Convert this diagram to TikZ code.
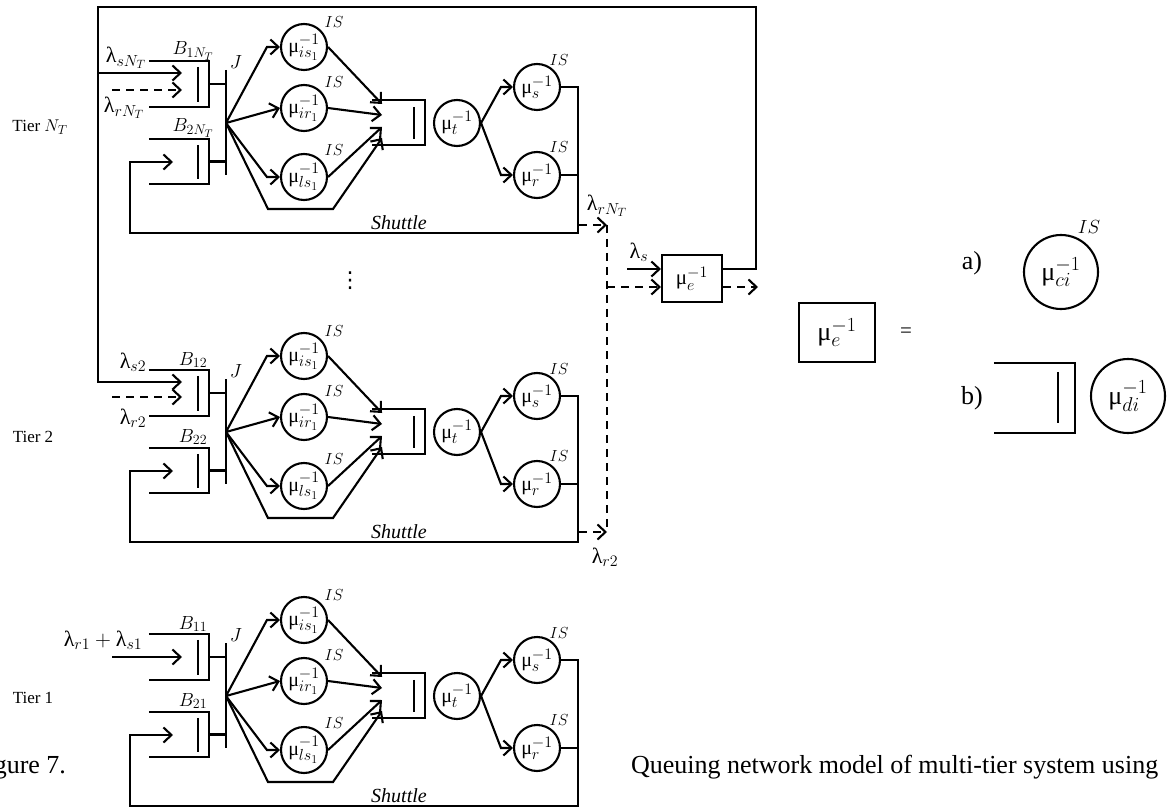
\RequirePackage{fix-cm}
\documentclass[tikz,border=0pt]{standalone}
\usepackage{fontspec}
\setmainfont{Liberation Serif}
\newfontfamily\dejavufont{DejaVu Sans}
\usetikzlibrary{arrows.meta,calc}
\DeclareMathSizes{20}{20}{16}{12}
\DeclareMathSizes{22}{22}{16}{12}
\DeclareMathSizes{19}{19}{14}{11}
\DeclareMathSizes{16}{16}{12}{9}
\DeclareMathSizes{17}{17}{13}{10}
\DeclareMathSizes{21}{21}{16}{12}
\DeclareMathSizes{26}{26}{20}{15}

\newcommand{\srvtext}[1]{\makebox[0pt]{μ$#1$}}

\tikzset{
  arr/.style={-{Straight Barb[length=8pt,width=15pt]}},
  dsh/.style={dash pattern=on 8pt off 6pt},
  srv/.style={circle,draw,minimum size=46pt,inner sep=0pt,font=\fontsize{20}{20}\selectfont},
  bigsrv/.style={circle,draw,minimum size=74pt,inner sep=0pt,font=\fontsize{26}{26}\selectfont},
  qnode/.style={rectangle,inner sep=0pt},
  lam/.style={inner sep=0pt,font=\fontsize{22}{22}\selectfont},
  blbl/.style={inner sep=0pt,font=\fontsize{19}{19}\selectfont},
  islbl/.style={inner sep=0pt,font=\fontsize{16}{16}\selectfont},
  shlbl/.style={inner sep=0pt,font=\fontsize{20}{20}\selectfont\itshape},
  tierlbl/.style={inner sep=0pt,font=\fontsize{17}{17}\selectfont},
  captext/.style={inner sep=0pt,font=\fontsize{26}{26}\selectfont},
  biglbl/.style={inner sep=0pt,font=\fontsize{26}{26}\selectfont},
}

\newcommand{\tiercore}[2]{%
  \node[qnode,minimum width=58pt,minimum height=44pt] (B1) at (179,84) {};
  \draw (B1.north west) -- (B1.north east) -- (B1.south east) -- (B1.south west);
  \draw ($(B1.north east)+(-11,6)$) -- ($(B1.south east)+(-11,-5)$);
  \node[qnode,minimum width=58pt,minimum height=43pt] (B2) at (179,161.5) {};
  \draw (B2.north west) -- (B2.north east) -- (B2.south east) -- (B2.south west);
  \draw ($(B2.north east)+(-11,6)$) -- ($(B2.south east)+(-11,-5)$);
  \node[blbl] (B1l) at (193,51) {$B_{#1}$};
  \node[blbl] (B2l) at (193,128) {$B_{#2}$};
  \coordinate (Jt) at (226,70);
  \coordinate (Jb) at (226,175);
  \coordinate (J) at (226,123);
  \draw (Jt) -- (Jb);
  \node[blbl] (Jl) at (236,62) {$J$};
  \draw (B1.east) -- (B1.east -| J);
  \draw (B2.east) -- (B2.east -| J);
  \node[srv] (cis) at (304,47) {\srvtext{^{-1}_{is_1}}};
  \node[srv] (cir) at (304,108) {\srvtext{^{-1}_{ir_1}}};
  \node[srv] (cls) at (304,177) {\srvtext{^{-1}_{ls_1}}};
  \node[islbl] (cisIS) at (334,22) {$IS$};
  \node[islbl] (cirIS) at (334,82) {$IS$};
  \node[islbl] (clsIS) at (334,150) {$IS$};
  \draw[arr] (J) -- ($(cis.west)+(-13,0)$) -- (cis.west);
  \draw[arr] (J) -- (cir.west);
  \draw[arr] (J) -- ($(cls.west)+(-13,0)$) -- (cls.west);
  \coordinate (byA) at (268,209);
  \coordinate (byB) at (333,209);
  \coordinate (m1) at (382,104);
  \coordinate (m2) at (382,115);
  \coordinate (m3) at (382,127);
  \coordinate (m4) at (382,138);
  \draw[arr] (cis.east) -- (m1);
  \draw[arr] (cir.east) -- (m2);
  \draw[arr] (cls.east) -- (m3);
  \draw[arr] (J) -- (byA) -- (byB) -- (m4);
  \node[qnode,minimum width=51pt,minimum height=43pt] (Q) at (398.5,122.5) {};
  \draw (Q.north west) -- (Q.north east) -- (Q.south east) -- (Q.south west);
  \draw ($(Q.north east)+(-11,7)$) -- ($(Q.south east)+(-11,-6)$);
  \node[srv] (mt) at (457,123) {\srvtext{^{-1}_{t}}};
  \node[srv] (ms) at (537,87) {\srvtext{^{-1}_{s}}};
  \node[srv] (mr) at (537,175) {\srvtext{^{-1}_{r}}};
  \node[islbl] (msIS) at (559,60) {$IS$};
  \node[islbl] (mrIS) at (559,147) {$IS$};
  \draw[arr] (mt.east) -- ($(ms.west)+(-12,0)$) -- (ms.west);
  \draw[arr] (mt.east) -- ($(mr.west)+(-12,0)$) -- (mr.west);
  \coordinate (oT) at (578,87);
  \coordinate (oB) at (578,233);
  \coordinate (fbL) at (130,233);
  \coordinate (fbU) at (130,162);
  \coordinate (fbT) at (173,162);
  \draw[arr] (ms.east) -- (oT) -- (oB) -- (fbL) -- (fbU) -- (fbT);
  \draw (mr.east) -- (mr.east -| oT);
  \node[shlbl] (shut) at (399,223) {Shuttle};
}

\begin{document}
\begin{tikzpicture}[x=1pt,y=-1pt,line width=2.1pt]
\clip (0,0) rectangle (1167,810);

\begin{scope}[name prefix=tN-]
  \tiercore{1N_T}{2N_T}
\end{scope}
\begin{scope}[shift={(0,309)},name prefix=t2-]
  \tiercore{12}{22}
\end{scope}
\begin{scope}[shift={(0,573)},name prefix=t1-]
  \tiercore{11}{21}
\end{scope}

% tier labels
\node[tierlbl] (tierN) at (40,127) {Tier $N_T$};
\node[tierlbl] (tier2) at (33,437) {Tier 2};
\node[tierlbl] (tier1) at (33,698) {Tier 1};

% exit station
\node[draw,rectangle,minimum width=60pt,minimum height=47pt,inner sep=0pt,font=\fontsize{21}{21}\selectfont] (E) at (692,278.5) {μ$^{-1}_{e}$};

% outer loop
\coordinate (lpA) at (756,269);
\coordinate (lpB) at (756,7);
\coordinate (lpC) at (98,7);
\coordinate (lpD) at (98,382);
\coordinate (in2s) at (182,382);
\coordinate (lpJ) at (98,73);
\coordinate (inNs) at (182,73);
\draw[arr] ($(E.east)+(0,-9.5)$) -- (lpA) -- (lpB) -- (lpC) -- (lpD) -- (in2s);
\draw[arr] (lpJ) -- (inNs);

% dashed inputs
\coordinate (dNa) at (112,90);
\coordinate (dNb) at (182,90);
\coordinate (d2a) at (112,397);
\coordinate (d2b) at (182,397);
\draw[arr,dsh] (dNa) -- (dNb);
\draw[arr,dsh] (d2a) -- (d2b);

% tier 1 input
\coordinate (i1a) at (112,657);
\coordinate (i1b) at (182,657);
\draw[arr] (i1a) -- (i1b);

% dashed outputs of tiers
\coordinate (oNa) at (579,225);
\coordinate (oNb) at (607,225);
\coordinate (o2a) at (579,532);
\coordinate (o2b) at (607,532);
\coordinate (vE) at (607,287);
\draw[arr,dsh] (oNa) -- (oNb);
\draw[arr,dsh] (o2a) -- (o2b);
\draw[dsh] (oNb) -- (o2b);
\draw[arr,dsh] (vE) -- ($(E.west)+(0,8.5)$);
\coordinate (lsa) at (627,269);
\draw[arr] (lsa) -- ($(E.west)+(0,-9.5)$);
\coordinate (eo) at (758,287);
\draw[arr,dsh] ($(E.east)+(0,8.5)$) -- (eo);

% lambda labels
\node[lam] (lsN) at (126,58) {λ$_{sN_T}$};
\node[lam] (lrN) at (124,108) {λ$_{rN_T}$};
\node[lam] (ls2) at (133,362) {λ$_{s2}$};
\node[lam] (lr2) at (133,418) {λ$_{r2}$};
\node[lam] (lrs1) at (103,640) {λ$_{r1}+{}$λ$_{s1}$};
\node[lam] (lrNo) at (607,206) {λ$_{rN_T}$};
\node[lam] (lso) at (639,252) {λ$_{s}$};
\node[lam] (lr2o) at (605,557) {λ$_{r2}$};

% dots
\node[inner sep=0pt,font=\dejavufont\fontsize{22}{22}\selectfont] (vdots) at (350,281) {⋮};

% legend
\node[draw,rectangle,minimum width=76pt,minimum height=59pt,inner sep=0pt,font=\fontsize{26}{26}\selectfont] (E2) at (837,332.5) {μ$^{-1}_{e}$};
\node[inner sep=0pt,font=\fontsize{21}{21}\selectfont] (eq) at (906,333) {=};
\node[biglbl] (la) at (972,263) {a)};
\node[biglbl] (lb) at (972,398) {b)};
\node[bigsrv] (cci) at (1061,272) {\srvtext{^{-1}_{ci}}};
\node[islbl,font=\fontsize{19}{19}\selectfont] (cciIS) at (1089,227) {$IS$};
\node[qnode,minimum width=79pt,minimum height=68pt] (Qb) at (1034.5,398) {};
\draw (Qb.north west) -- (Qb.north east) -- (Qb.south east) -- (Qb.south west);
\draw ($(Qb.north east)+(-17,9)$) -- ($(Qb.south east)+(-17,-10)$);
\node[bigsrv] (cdi) at (1128,396) {\srvtext{^{-1}_{di}}};

% caption
\node[captext,anchor=base east] (fig) at (67,773) {Figure 7.};
\node[captext,anchor=base west] (captxt) at (630,773) {Queuing network model of multi-tier system using};
\end{tikzpicture}
\end{document}
